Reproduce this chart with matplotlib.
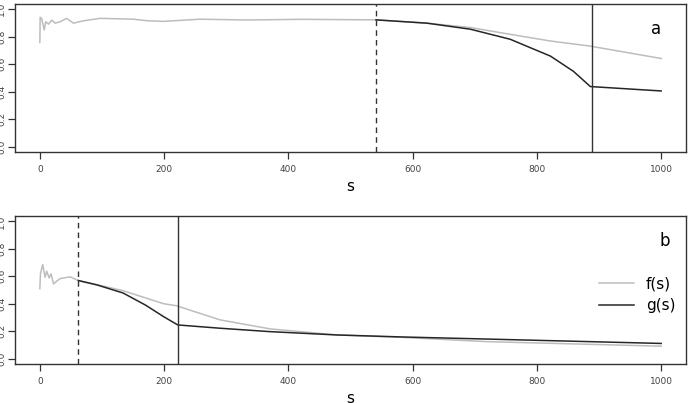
import matplotlib
matplotlib.use("Agg")
import matplotlib.pyplot as plt
import numpy as np

# panel a
s_fa = [0, 0.5, 3, 7, 9.5, 14, 19, 24.5, 32.5, 43, 54, 70, 97, 150, 172, 199, 258, 333, 420, 480, 541,
        623, 693, 757, 822, 886, 1000]
fa = [0.757, 0.94, 0.93, 0.848, 0.907, 0.89, 0.919, 0.897, 0.907, 0.932, 0.897, 0.914, 0.932, 0.926,
      0.915, 0.91, 0.926, 0.92, 0.925, 0.923, 0.921, 0.897, 0.865, 0.816, 0.767, 0.73, 0.64]
s_ga = [541, 623, 693, 757, 822, 859, 886, 1000]
ga = [0.921, 0.897, 0.853, 0.78, 0.657, 0.546, 0.436, 0.404]
cut_a = (541, 889)

# panel b
s_fb = [0, 1, 4.6, 8.4, 11, 15, 18, 22, 27, 32.5, 48.6, 62, 92, 134, 199, 220, 290, 371, 478, 585, 720, 1000]
fb = [0.51, 0.62, 0.686, 0.593, 0.637, 0.588, 0.618, 0.544, 0.564, 0.583, 0.596, 0.569, 0.539, 0.495,
      0.40, 0.385, 0.282, 0.216, 0.172, 0.154, 0.123, 0.09]
s_gb = [62, 92, 134, 170, 199, 222, 290, 371, 478, 585, 720, 1000]
gb = [0.569, 0.537, 0.478, 0.39, 0.306, 0.245, 0.221, 0.196, 0.172, 0.157, 0.142, 0.11]
cut_b = (62, 222)

xticks = [0, 200, 400, 600, 800, 1000]
yticks = [0.0, 0.2, 0.4, 0.6, 0.8, 1.0]

fig = plt.figure(figsize=(6.98, 4.03), dpi=100)
axa = fig.add_axes([15/698, 1-152/403, 671/698, 148.5/403])
axb = fig.add_axes([15/698, 1-364/403, 671/698, 148/403])

grey = "#bdbdbd"
dark = "#262626"

def style(ax):
    ax.set_xlim(-40, 1040)
    ax.set_ylim(-0.04, 1.04)
    ax.set_xticks(xticks)
    ax.set_xticklabels([str(v) for v in xticks], fontsize=6.5, color="#444444")
    ax.set_yticks(yticks)
    ax.set_yticklabels(["%.1f" % v for v in yticks], fontsize=6.5, color="#444444",
                       rotation=90, va="center")
    ax.tick_params(axis="x", direction="out", length=5, width=0.9, color="#333333", pad=4)
    ax.tick_params(axis="y", direction="out", length=5, width=0.9, color="#333333", pad=1.5)
    for sp in ax.spines.values():
        sp.set_color("#333333")
        sp.set_linewidth(1.0)
    ax.set_xlabel("s", fontsize=11, labelpad=4)

axa.plot(s_fa, fa, color=grey, lw=1.1, label="f(s)")
axa.plot(s_ga, ga, color=dark, lw=1.1, label="g(s)")
axa.axvline(cut_a[0], color="#333333", lw=1.0, ls=(0, (4, 3)))
axa.axvline(cut_a[1], color="#333333", lw=1.0)
axa.text(0.955, 0.83, "a", transform=axa.transAxes, fontsize=12, ha="center", va="center")
style(axa)

axb.plot(s_fb, fb, color=grey, lw=1.1, label="f(s)")
axb.plot(s_gb, gb, color=dark, lw=1.1, label="g(s)")
axb.axvline(cut_b[0], color="#333333", lw=1.0, ls=(0, (4, 3)))
axb.axvline(cut_b[1], color="#333333", lw=1.0)
axb.text(0.968, 0.83, "b", transform=axb.transAxes, fontsize=12, ha="center", va="center")
style(axb)
axb.legend(loc="center right", bbox_to_anchor=(1.005, 0.47), frameon=False, fontsize=11,
           handlelength=2.3, handletextpad=0.8, labelspacing=0.45)

fig.savefig("out.png", dpi=100)
